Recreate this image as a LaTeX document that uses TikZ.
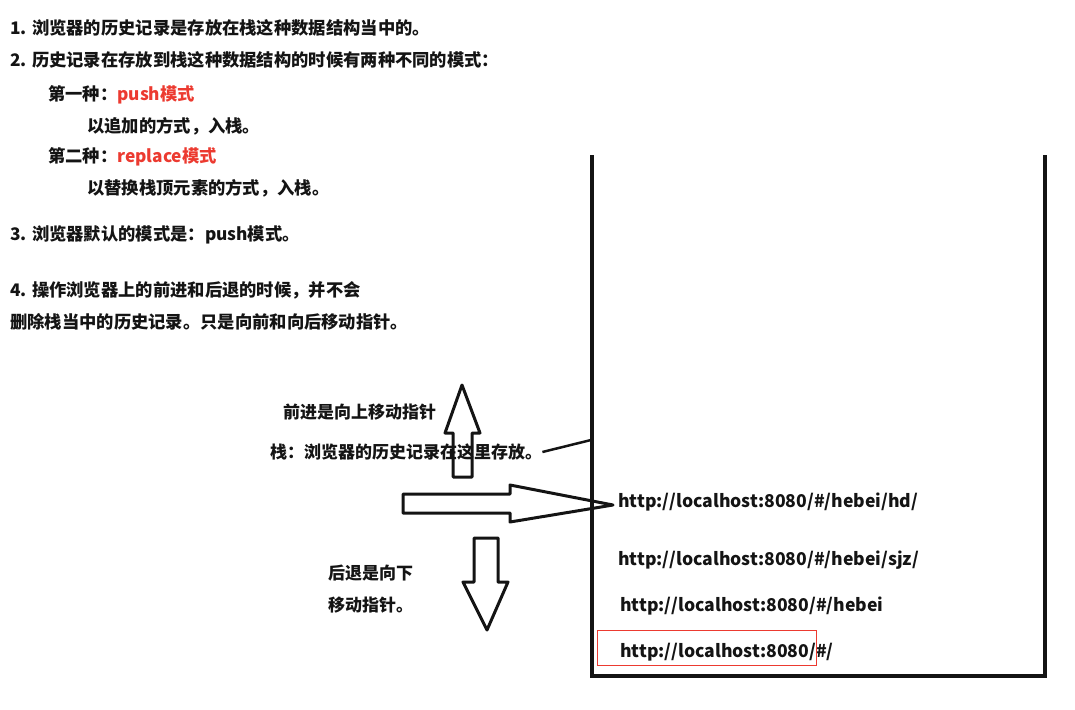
\documentclass[tikz,border=0pt]{standalone}
\usepackage{fontspec}
\setmainfont{Noto Sans CJK SC}
\definecolor{ink}{RGB}{20,20,20}
\definecolor{hl}{RGB}{236,58,48}
\begin{document}
\begin{tikzpicture}[x=1pt,y=-1pt,
  txt/.style={anchor=west,inner sep=0pt,font=\fontsize{17.3}{20}\selectfont\bfseries,text=ink},
  lbl/.style={txt,font=\fontsize{17}{20}\selectfont\bfseries},
  url/.style={txt,font=\fontsize{17.6}{20}\selectfont\bfseries},
  wall/.style={line width=4pt,draw=ink},
  blk/.style={line width=3pt,draw=ink,line join=round},
  pointer/.style={line width=2.5pt,draw=ink}]
\useasboundingbox (0,0) rectangle (1075,709);
% notes
\node[txt] (l1) at (10,28) {1. 浏览器的历史记录是存放在栈这种数据结构当中的。};
\node[txt] (l2) at (10,60) {2. 历史记录在存放到栈这种数据结构的时候有两种不同的模式：};
\node[txt] (m1) at (48,95) {第一种：\textcolor{hl}{push模式}};
\node[txt] (m1d) at (87,126) {以追加的方式，入栈。};
\node[txt] (m2) at (48,157) {第二种：\textcolor{hl}{replace模式}};
\node[txt] (m2d) at (87,188) {以替换栈顶元素的方式，入栈。};
\node[txt] (l3) at (10,235) {3. 浏览器默认的模式是：push模式。};
\node[txt] (l4) at (10,290) {4. 操作浏览器上的前进和后退的时候，并不会};
\node[txt] (l4b) at (10,322) {删除栈当中的历史记录。只是向前和向后移动指针。};
% stack
\coordinate (tl) at (592,155);
\coordinate (bl) at (592,676);
\coordinate (br) at (1045,676);
\coordinate (tr) at (1045,155);
\draw[wall] (tl) -- (bl) -- (br) -- (tr);
\coordinate (wallpt) at (591,440);
% block arrows
\draw[blk] (453,477) -- (453,433) -- (445,433) -- (462,385) -- (480,433) -- (472,433) -- (472,477) -- cycle;
\draw[blk] (403,494) -- (510,494) -- (510,485) -- (613,505) -- (510,522) -- (510,513) -- (403,513) -- cycle;
\draw[blk] (474,538) -- (498,538) -- (498,582) -- (508,582) -- (487,630) -- (463,582) -- (474,582) -- cycle;
% labels
\node[lbl] (fwd) at (283,412) {前进是向上移动指针};
\node[lbl] (stk) at (270,452) {栈：浏览器的历史记录在这里存放。};
\node[lbl] (back1) at (328,573) {后退是向下};
\node[lbl] (back2) at (328,605) {移动指针。};
\draw[pointer] (stk.east) -- (wallpt);
% urls
\node[url] (u1) at (618,502) {http://localhost:8080/\#/hebei/hd/};
\node[url] (u2) at (618,560) {http://localhost:8080/\#/hebei/sjz/};
\node[url] (u3) at (620,606) {http://localhost:8080/\#/hebei};
\node[url] (u4) at (620,652) {http://localhost:8080/\#/};
\node[draw=hl,line width=1.3pt,anchor=north west,minimum width=219pt,minimum height=35pt,inner sep=0pt] (box) at (597,630) {};
\end{tikzpicture}
\end{document}
